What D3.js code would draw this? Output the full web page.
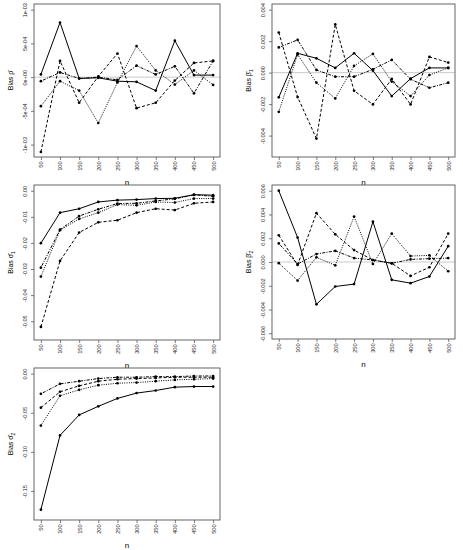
<!DOCTYPE html>
<html>
<head>
<meta charset="utf-8">
<script src="https://cdn.jsdelivr.net/npm/d3@7"></script>
<style>
body { margin: 0; background: #fff; }
svg { font-family: "Liberation Sans", Arial, sans-serif; }
</style>
</head>
<body>
<svg id="chart" width="463" height="550"></svg>
<script>
// sample sizes on the x axis
const sampleSizes = [50, 100, 150, 200, 250, 300, 350, 400, 450, 500];

// one line type per series, same order in every panel
const lineTypes = ['solid', 'dashed', 'dotted', 'dotdash'];

// bias of rho hat
const biasRho = [
    [0.4e-4, 8.1e-4, -0.2e-4, -0.1e-4, -0.6e-4, -0.7e-4, -2.0e-4, 5.4e-4, 0.3e-4, 0.3e-4],
    [-11.1e-4, 2.4e-4, -3.8e-4, 0.1e-4, 3.5e-4, -4.6e-4, -3.8e-4, -0.5e-4, 2.1e-4, 2.4e-4],
    [-4.3e-4, -0.6e-4, -2.0e-4, -6.8e-4, -0.8e-4, 4.6e-4, 1.0e-4, -1.1e-4, 1.0e-4, -1.15e-4],
    [-0.6e-4, 0.7e-4, -0.2e-4, 0.0, -0.4e-4, 1.7e-4, 0.4e-4, 1.6e-4, -2.4e-4, 2.4e-4]
];

// bias of beta1 hat
const biasBeta1 = [
    [-0.00157, 0.00123, 0.00091, 0.00030, 0.00123, 0.00013, -0.00149, -0.00038, 0.00030, 0.00030],
    [0.00255, -0.00155, -0.00419, 0.00306, -0.00115, -0.00202, -0.00040, -0.00202, 0.00100, 0.00064],
    [-0.00249, 0.00115, -0.00064, -0.00164, 0.00043, 0.00119, -0.00057, -0.00149, -0.00015, 0.00030],
    [0.00160, 0.00208, 0.00017, -0.00026, -0.00026, 0.00021, 0.00081, -0.00042, -0.00096, -0.00064]
];

// bias of sigma1 hat
const biasSigma1 = [
    [-0.0201, -0.0084, -0.0069, -0.0043, -0.0036, -0.0034, -0.0030, -0.0029, -0.0015, -0.0017],
    [-0.0522, -0.0269, -0.0160, -0.0121, -0.0113, -0.0084, -0.0069, -0.0074, -0.0048, -0.0043],
    [-0.0329, -0.0151, -0.0108, -0.0084, -0.0053, -0.0056, -0.0043, -0.0045, -0.0030, -0.0030],
    [-0.0295, -0.0149, -0.0097, -0.0071, -0.0049, -0.0048, -0.0039, -0.0031, -0.0016, -0.0021]
];

// bias of beta2 hat
const biasBeta2 = [
    [0.00600, 0.00206, -0.00356, -0.00206, -0.00186, 0.00339, -0.00150, -0.00178, -0.00122, 0.00133],
    [0.00225, -0.00025, 0.00411, 0.00233, 0.00100, 0.00017, -0.00011, -0.00117, -0.00044, 0.00239],
    [-0.00010, -0.00156, 0.00039, -0.00028, 0.00383, -0.00017, 0.00239, 0.00050, 0.00056, -0.00078],
    [0.00156, -0.00017, 0.00067, 0.00094, 0.00033, 0.00017, -0.00011, 0.00022, 0.00028, 0.00033]
];

// bias of sigma2 hat
const biasSigma2 = [
    [-0.174, -0.079, -0.0528, -0.0418, -0.0317, -0.0249, -0.0216, -0.0173, -0.0165, -0.0165],
    [-0.0435, -0.0232, -0.0156, -0.0097, -0.0072, -0.0063, -0.0055, -0.0046, -0.0046, -0.0046],
    [-0.0664, -0.0283, -0.0207, -0.0148, -0.0123, -0.0114, -0.0097, -0.0080, -0.0072, -0.0063],
    [-0.0258, -0.0131, -0.0097, -0.0063, -0.0046, -0.0046, -0.0038, -0.0038, -0.0030, -0.0030]
];

// y limits (before the usual 4% padding) and tick labels
const rhoLimits = [-0.0011, 0.001];
const beta1Limits = [-0.005, 0.004];
const sigma1Limits = [-0.055, 0];
const beta2Limits = [-0.006, 0.006];
const sigma2Limits = [-0.18, 0];

const rhoTicks = [-1e-3, -5e-4, 0, 5e-4, 1e-3];
const rhoTickLabels = ['-1e-03', '-5e-04', '0e+00', '5e-04', '1e-03'];
const beta1Ticks = [-0.004, -0.002, 0, 0.002, 0.004];
const sigma1Ticks = [-0.05, -0.04, -0.03, -0.02, -0.01, 0];
const beta2Ticks = [-0.006, -0.004, -0.002, 0, 0.002, 0.004, 0.006];
const sigma2Ticks = [-0.15, -0.10, -0.05, 0];

const dashes = {
    solid: null,
    dashed: '3,2',
    dotted: '1,1.3',
    dotdash: '1,1.3,3,1.3'
};

const svg = d3.select('#chart');
svg.append('rect')
    .attr('width', 463)
    .attr('height', 550)
    .attr('fill', '#fff');

function pad(lim) {
    const d = (lim[1] - lim[0]) * 0.04;
    return [lim[0] - d, lim[1] + d];
}

function drawPanel(p) {
    const g = svg.append('g');

    const xScale = d3.scaleLinear()
        .domain(pad([sampleSizes[0], sampleSizes[sampleSizes.length - 1]]))
        .range([p.x0, p.x1]);

    const yScale = d3.scaleLinear()
        .domain(pad(p.ylim))
        .range([p.y1, p.y0]);

    if (p.zero) {
        g.append('line')
            .attr('x1', p.x0)
            .attr('x2', p.x1)
            .attr('y1', yScale(0))
            .attr('y2', yScale(0))
            .attr('stroke', '#c4c4c4')
            .attr('stroke-width', 0.9);
    }

    // x axis, labels rotated like las = 2
    const xAxis = g.append('g')
        .attr('transform', `translate(0, ${p.y1})`)
        .call(d3.axisBottom(xScale)
            .tickValues(sampleSizes)
            .tickSize(3)
            .tickSizeOuter(0)
            .tickFormat(d3.format('d')));
    xAxis.select('.domain').remove();
    xAxis.selectAll('line').attr('stroke', '#444').attr('stroke-width', 0.7);
    xAxis.selectAll('text')
        .attr('transform', 'rotate(-90)')
        .attr('x', -4.5)
        .attr('y', 0)
        .attr('dy', '0.35em')
        .style('text-anchor', 'end')
        .style('font-size', '5.6px')
        .style('font-family', '"Liberation Sans", Arial, sans-serif')
        .attr('fill', '#222');

    // y axis, labels parallel to the axis
    const yAxis = g.append('g')
        .attr('transform', `translate(${p.x0}, 0)`)
        .call(d3.axisLeft(yScale)
            .tickValues(p.ticks)
            .tickSize(3)
            .tickSizeOuter(0)
            .tickFormat((d, i) => p.tickLabels ? p.tickLabels[i] : d3.format(p.fmt)(d).replace('\u2212', '-')));
    yAxis.select('.domain').remove();
    yAxis.selectAll('line').attr('stroke', '#444').attr('stroke-width', 0.7);
    yAxis.selectAll('text')
        .attr('transform', 'rotate(-90)')
        .attr('x', 0)
        .attr('y', -7)
        .attr('dy', 0)
        .style('text-anchor', 'middle')
        .style('font-size', '5.6px')
        .style('font-family', '"Liberation Sans", Arial, sans-serif')
        .attr('fill', '#222');

    const line = d3.line()
        .x((d, i) => xScale(sampleSizes[i]))
        .y((d) => yScale(d));

    p.series.forEach((values, k) => {
        g.append('path')
            .datum(values)
            .attr('d', line)
            .attr('fill', 'none')
            .attr('stroke', '#000')
            .attr('stroke-width', 1)
            .attr('stroke-dasharray', dashes[lineTypes[k]]);

        g.selectAll(null)
            .data(values)
            .enter()
            .append('circle')
            .attr('cx', (d, i) => xScale(sampleSizes[i]))
            .attr('cy', (d) => yScale(d))
            .attr('r', 1.35)
            .attr('fill', '#000');
    });

    g.append('rect')
        .attr('x', p.x0)
        .attr('y', p.y0)
        .attr('width', p.x1 - p.x0)
        .attr('height', p.y1 - p.y0)
        .attr('fill', 'none')
        .attr('stroke', '#555')
        .attr('stroke-width', 0.9);

    g.append('text')
        .attr('x', (p.x0 + p.x1) / 2)
        .attr('y', p.y1 + 28)
        .attr('text-anchor', 'middle')
        .style('font-size', '8px')
        .attr('fill', '#000')
        .text('n');

    const cy = (p.y0 + p.y1) / 2;
    const title = g.append('text')
        .attr('transform', `translate(${p.x0 - 21}, ${cy}) rotate(-90)`)
        .attr('text-anchor', 'middle')
        .style('font-size', '7px')
        .attr('fill', '#000');
    title.append('tspan').text('Bias ' + p.symbol + '\u0302');
    if (p.sub) {
        title.append('tspan')
            .attr('dy', 1.8)
            .style('font-size', '5px')
            .text(p.sub);
    }
}

const panels = [
    { series: biasRho, ylim: rhoLimits, ticks: rhoTicks, tickLabels: rhoTickLabels,
      symbol: '\u03c1', sub: '', zero: true, x0: 34, x1: 220, y0: 4, y1: 157 },
    { series: biasBeta1, ylim: beta1Limits, ticks: beta1Ticks, fmt: '.3f',
      symbol: '\u03b2', sub: '1', zero: true, x0: 272, x1: 455, y0: 4, y1: 157 },
    { series: biasSigma1, ylim: sigma1Limits, ticks: sigma1Ticks, fmt: '.2f',
      symbol: '\u03c3', sub: '1', zero: false, x0: 34, x1: 220, y0: 185, y1: 340 },
    { series: biasBeta2, ylim: beta2Limits, ticks: beta2Ticks, fmt: '.3f',
      symbol: '\u03b2', sub: '2', zero: true, x0: 272, x1: 455, y0: 185, y1: 339 },
    { series: biasSigma2, ylim: sigma2Limits, ticks: sigma2Ticks, fmt: '.2f',
      symbol: '\u03c3', sub: '2', zero: false, x0: 34, x1: 220, y0: 368, y1: 520 }
];

panels.forEach(drawPanel);
</script>
</body>
</html>
